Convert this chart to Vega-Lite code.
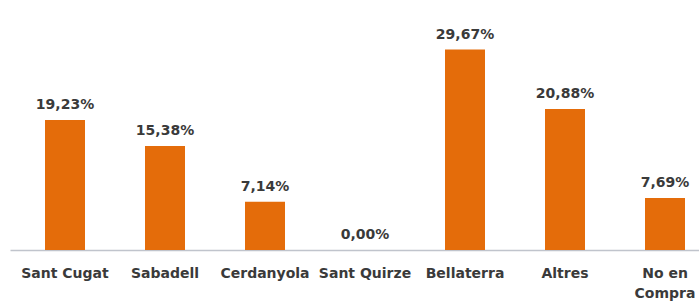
{
  "$schema": "https://vega.github.io/schema/vega-lite/v6.json",
  "width": 689,
  "height": 250,
  "autosize": {"type": "none"},
  "padding": {"left": 10, "top": 0, "right": 0, "bottom": 52},
  "config": {
    "view": {"stroke": null},
    "locale": {"number": {"decimal": ",", "thousands": ".", "grouping": [3], "currency": ["", " €"]}}
  },
  "data": {
    "values": [
      {"cat": "Sant Cugat", "v": 0.1923},
      {"cat": "Sabadell", "v": 0.1538},
      {"cat": "Cerdanyola", "v": 0.0714},
      {"cat": "Sant Quirze", "v": 0.0},
      {"cat": "Bellaterra", "v": 0.2967},
      {"cat": "Altres", "v": 0.2088},
      {"cat": "No en Compra", "v": 0.0769}
    ]
  },
  "encoding": {
    "x": {
      "field": "cat",
      "type": "nominal",
      "sort": null,
      "scale": {"range": [0, 710], "paddingInner": 0.6, "paddingOuter": 0.35},
      "axis": {
        "title": null,
        "ticks": false,
        "labelAngle": 0,
        "labelPadding": 16,
        "labelFont": "DejaVu Sans",
        "labelFontWeight": "bold",
        "labelFontSize": 14,
        "labelColor": "#3a3a3a",
        "labelLineHeight": 20,
        "labelLimit": 0,
        "labelOverlap": false,
        "labelExpr": "datum.value == 'No en Compra' ? ['No en', 'Compra'] : datum.value",
        "domainColor": "#c0c4cc",
        "domainWidth": 1.5
      }
    },
    "y": {
      "field": "v",
      "type": "quantitative",
      "scale": {"domain": [0, 0.37], "nice": false},
      "axis": null
    }
  },
  "layer": [
    {"mark": {"type": "bar", "color": "#E46C0A"}},
    {
      "mark": {
        "type": "text",
        "baseline": "alphabetic",
        "dy": -11,
        "font": "DejaVu Sans",
        "fontWeight": "bold",
        "fontSize": 14,
        "color": "#3a3a3a"
      },
      "encoding": {"text": {"field": "v", "type": "quantitative", "format": ".2%"}}
    }
  ]
}
